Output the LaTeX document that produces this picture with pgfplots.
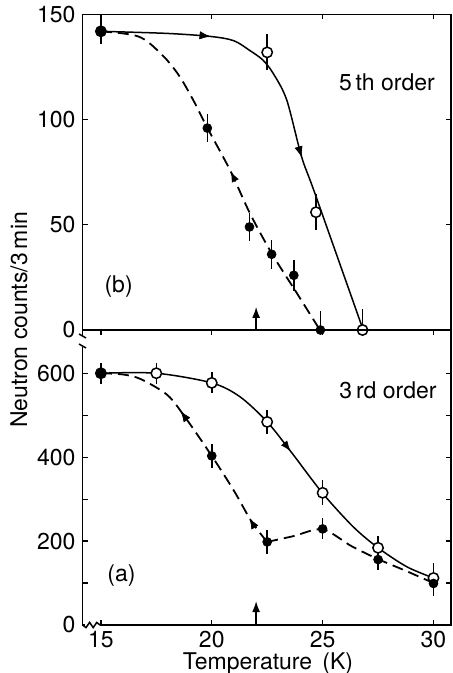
\documentclass[border=0pt]{standalone}
\usepackage{pgfplots}
\pgfplotsset{compat=1.18}
\usepackage{fontspec}
\setmainfont{TeX Gyre Heros}
\usetikzlibrary{arrows.meta,decorations.markings}

\tikzset{
  fwd/.style={postaction={decorate}, decoration={markings,
      mark=at position #1 with {\arrow{Latex[length=5.5pt,width=4pt]}}}},
  bwd/.style={postaction={decorate}, decoration={markings,
      mark=at position #1 with {\arrowreversed{Latex[length=5.5pt,width=4pt]}}}},
}
\pgfplotsset{
  panel/.style={
    scale only axis, width=184.25pt, anchor=south west,
    xmin=14.17, xmax=30.79,
    axis line style={line width=0.75pt},
    tick style={line width=0.6pt, black},
    major tick length=2.5pt, minor tick length=2.5pt,
    /pgf/number format/assume math mode=true,
    tick label style={font=\fontsize{11.5}{13}\selectfont},
    clip=false,
  },
  heat/.style={only marks, mark=*, mark size=2.6pt,
    mark options={fill=white, draw=black, line width=0.75pt},
    error bars/.cd, y dir=both, y explicit, error mark=none,
    error bar style={line width=0.75pt}, /pgfplots/.cd},
  cool/.style={only marks, mark=*, mark size=2.2pt,
    mark options={fill=black, draw=black},
    error bars/.cd, y dir=both, y explicit, error mark=none,
    error bar style={line width=0.75pt}, /pgfplots/.cd},
  solidc/.style={black, line width=0.75pt, no marks, smooth, tension=0.5},
  dashc/.style={black, line width=0.9pt, no marks, dash pattern=on 5.5pt off 3pt},
}

\begin{document}
\begin{tikzpicture}
\path[use as bounding box] (0,0) rectangle (226pt,-336.5pt);

% ---------------- (b) 5th order ----------------
\begin{axis}[panel, at={(41.25pt,-165pt)}, height=157.75pt,
  ymin=0, ymax=150, ytick={0,50,100,150},
  xtick={15,20,25,30}, xtick pos=right, xticklabels={}]

\addplot[solidc, fwd=0.24, fwd=0.6] coordinates {
  (15,142) (18,141) (20,139.5) (21,137.5) (21.7,133) (22.3,128.4)
  (22.77,122) (23.38,109.4) (24.05,82.4) (24.65,65) (26.83,0)};

\addplot[dashc, smooth, tension=0.5, bwd=0.6] coordinates {
  (15,142) (16,141) (16.7,139.5) (17.2,136.3) (17.96,128.6) (18.56,120.4)
  (19.16,109.4) (19.77,96.7) (20.82,76.1) (21.72,55.5) (22.7,36.5) (23.75,19)};
\addplot[dashc] coordinates {(23.75,19) (24.88,0)};

\addplot[heat] table[x=T, y=N, y error=E] {
T N E
15 142 6
22.5 132 8.5
24.7 56 8.5
};
\addplot[heat, error bars/y dir=plus] table[x=T, y=N, y error=E] {
T N E
26.8 0 10
};
\addplot[cool] table[x=T, y=N, y error=E] {
T N E
15 142 6
19.8 96 6.5
21.7 49 6.5
22.7 36 7
23.7 26 7.5
};
\addplot[cool, error bars/y dir=plus] table[x=T, y=N, y error=E] {
T N E
24.9 0 9
};

\draw[line width=0.75pt, -{Latex[length=5.5pt,width=4pt]}] (axis cs:22,0) -- (axis cs:22,11);
\node[font=\fontsize{11.5}{13}\selectfont] at (axis cs:27.9,118) {5\,th order};
\node[font=\fontsize{11.5}{13}\selectfont] at (axis cs:15.8,20.6) {(b)};
\end{axis}

% ---------------- (a) 3rd order ----------------
\begin{axis}[panel, at={(41.25pt,-312.5pt)}, height=147.5pt,
  ymin=0, ymax=703, ytick={0,200,400,600}, minor ytick={100,300,500},
  xtick={15,20,25,30},
  xticklabel style={anchor=base, yshift=-11pt}]

\addplot[solidc, fwd=0.53] coordinates {
  (15,600) (17.5,600) (20,577) (21.27,544) (22.5,484) (23.6,411)
  (25,314) (26.38,234) (27.5,184) (28.79,139) (30,112)};

\addplot[dashc, smooth, tension=0.5, bwd=0.37, bwd=0.88] coordinates {
  (15,600) (16,597) (16.8,586) (18,548) (18.8,495) (20,403)
  (21,320) (21.8,246) (22.5,198)};
\addplot[dashc, smooth, tension=0.5] coordinates {
  (22.5,198) (23.7,212) (25,228) (26.3,188) (27.5,157) (28.8,128) (30,100)};

\addplot[heat] table[x=T, y=N, y error=E] {
T N E
15 600 25
17.5 600 25
20 577 25
22.5 484 28
25 315 30
27.5 184 28
30 112 35
};
\addplot[cool] table[x=T, y=N, y error=E] {
T N E
15 600 25
20 403 28
22.5 198 28
25 229 25
27.5 156 25
30 99 30
};

\draw[line width=0.75pt, -{Latex[length=5.5pt,width=4pt]}] (axis cs:22,0) -- (axis cs:22,57);
\node[font=\fontsize{11.5}{13}\selectfont] at (axis cs:27.95,560) {3\,rd order};
\node[font=\fontsize{11.5}{13}\selectfont] at (axis cs:15.93,119) {(a)};
\end{axis}

% axis breaks
\fill[white] (39.5pt,-168pt) rectangle (43pt,-173.5pt);
\draw[line width=0.75pt] (39.5pt,-167pt) -- (43pt,-169pt);
\draw[line width=0.75pt] (39.5pt,-172pt) -- (43pt,-174pt);
\fill[white] (42.5pt,-311pt) rectangle (50pt,-314pt);
\draw[line width=0.75pt] (41.25pt,-312.5pt) -- (43pt,-313.8pt) -- (44.8pt,-311.2pt)
  -- (46.6pt,-313.8pt) -- (48.4pt,-311.2pt) -- (50pt,-312.5pt);

% axis titles
\node[rotate=90, font=\fontsize{11.5}{13}\selectfont] at (9.5pt,-160pt) {Neutron counts/3\,min};
\node[anchor=base, font=\fontsize{11.5}{13}\selectfont] at (134pt,-334.6pt) {Temperature\, (K)};
\end{tikzpicture}
\end{document}
